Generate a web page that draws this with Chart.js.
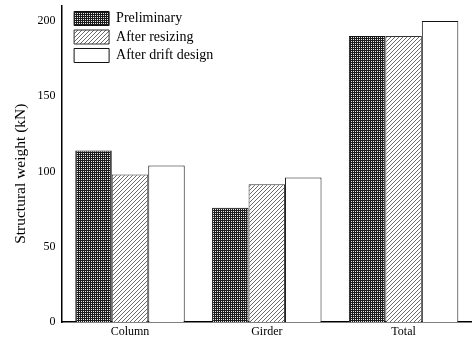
<!DOCTYPE html>
<html>
<head>
<meta charset="utf-8">
<script src="https://cdn.jsdelivr.net/npm/chart.js@4.4.1/dist/chart.umd.min.js"></script>
<style>
  html, body { margin: 0; padding: 0; background: #fff; }
  #wrap { width: 472px; height: 339px; }
</style>
</head>
<body>
<div id="wrap"><canvas id="c" width="472" height="339"></canvas></div>
<script>
// Structural weight of members at each design stage (kN)
const categories = ['Column', 'Girder', 'Total'];
const seriesNames = ['Preliminary', 'After resizing', 'After drift design'];
const preliminary = [114, 76, 190];
const afterResizing = [98, 91.5, 190];
const afterDrift = [104, 96, 200];
const yTicks = [0, 50, 100, 150, 200];

// Fill patterns for the bars
function makeTile(size, draw) {
  const cv = document.createElement('canvas');
  cv.width = size; cv.height = size;
  const g = cv.getContext('2d');
  draw(g);
  return g.createPattern(cv, 'repeat');
}
const dotPattern = makeTile(4, g => {
  g.fillStyle = '#1c1c1c';
  g.fillRect(0, 0, 4, 4);
  g.fillStyle = '#e8e8e8';
  [[1, 1], [3, 3], [1, 3], [3, 1]].forEach(([x, y]) => g.fillRect(x, y, 1, 1));
});
const hatchPattern = makeTile(4, g => {
  g.fillStyle = '#ffffff';
  g.fillRect(0, 0, 4, 4);
  g.fillStyle = '#6a6a6a';
  for (let i = 0; i < 4; i++) g.fillRect(i, 3 - i, 1, 1);
});

const serif = "'Liberation Serif', 'Times New Roman', serif";

// Nudges the legend block right and down, inside the plot area
const legendShift = {
  id: 'legendShift',
  afterLayout(chart) {
    if (chart.legend) {
      chart.legend.left += 8;
      chart.legend.top += 7;
    }
  }
};

new Chart(document.getElementById('c'), {
  type: 'bar',
  data: {
    labels: categories,
    datasets: [
      { label: seriesNames[0], data: preliminary, backgroundColor: dotPattern, borderColor: '#111', borderWidth: 1 },
      { label: seriesNames[1], data: afterResizing, backgroundColor: hatchPattern, borderColor: '#333', borderWidth: 1 },
      { label: seriesNames[2], data: afterDrift, backgroundColor: '#ffffff', borderColor: '#111', borderWidth: 1 }
    ]
  },
  options: {
    responsive: false,
    animation: false,
    layout: { padding: { left: 12, top: 6, right: 0, bottom: 0 } },
    datasets: { bar: { categoryPercentage: 0.8, barPercentage: 1.0 } },
    plugins: {
      tooltip: { enabled: false },
      legend: {
        position: 'chartArea',
        align: 'start',
        labels: {
          boxWidth: 35,
          boxHeight: 14,
          padding: 4.5,
          color: '#000',
          font: { family: serif, size: 14 }
        }
      }
    },
    scales: {
      x: {
        afterFit(scale) { scale.height = 17; },
        grid: { display: false, drawTicks: false },
        border: { display: true, color: '#000', width: 1.5 },
        ticks: { color: '#000', padding: 4, font: { family: serif, size: 12, lineHeight: 1 } }
      },
      y: {
        min: 0,
        max: 210,
        afterBuildTicks(scale) {
          scale.ticks = yTicks.map(v => ({ value: v }));
        },
        afterFit(scale) { scale.paddingTop = 0; scale.paddingBottom = 0; },
        grid: { display: false, drawTicks: false },
        border: { display: true, color: '#000', width: 1.5 },
        ticks: { color: '#000', padding: 6, font: { family: serif, size: 12 } },
        title: {
          display: true,
          // trailing no-break spaces sit the label a little below the axis midpoint
          text: 'Structural weight (kN)\u00a0\u00a0\u00a0\u00a0\u00a0',
          color: '#000',
          padding: { top: 0, bottom: 1 },
          font: { family: serif, size: 15.5 }
        }
      }
    }
  },
  plugins: [legendShift]
});
</script>
</body>
</html>
